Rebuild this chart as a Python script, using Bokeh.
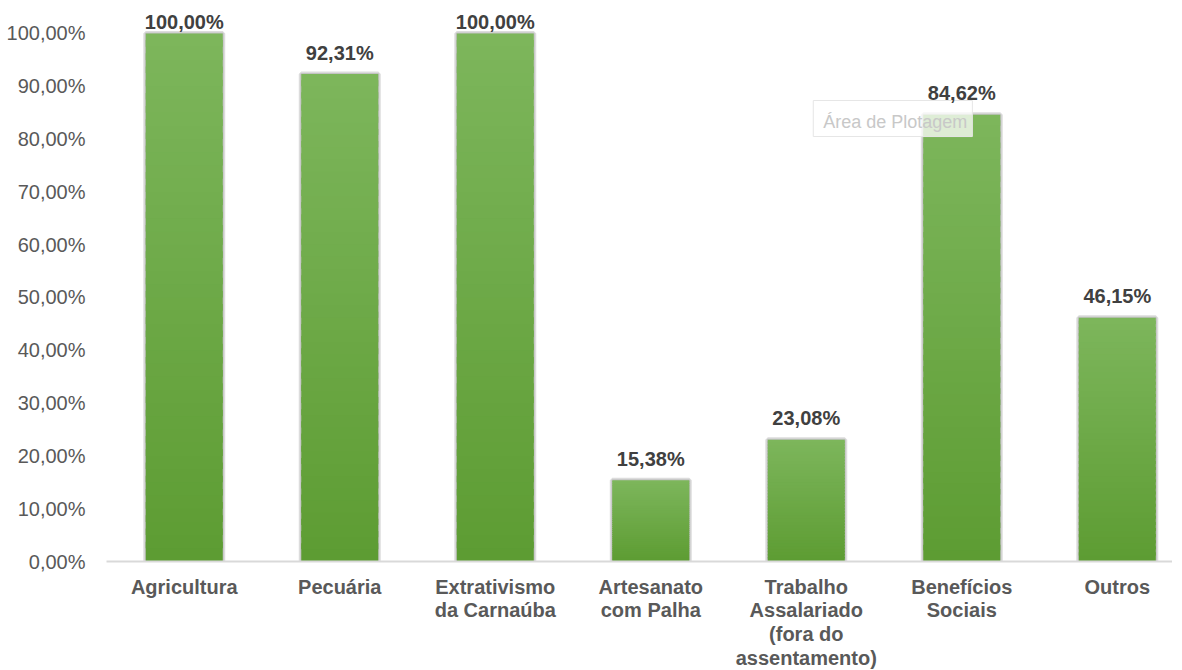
import numpy as np
from bokeh.plotting import figure
from bokeh.models import ColumnDataSource, Range1d, FixedTicker, Label
from bokeh.core.properties import value
from bokeh.embed import file_html
from bokeh.resources import INLINE

categories = ["Agricultura", "Pecuária", "Extrativismo\nda Carnaúba", "Artesanato\ncom Palha",
              "Trabalho\nAssalariado\n(fora do\nassentamento)", "Benefícios\nSociais", "Outros"]
values = [100.00, 92.31, 100.00, 15.38, 23.08, 84.62, 46.15]
y_ticks = [0, 10, 20, 30, 40, 50, 60, 70, 80, 90, 100]

FONT = "Liberation Sans"
xs = [i + 0.5 for i in range(len(categories))]

p = figure(frame_width=1066, frame_height=556, output_backend="svg", toolbar_location=None,
           x_range=Range1d(0, 6.855), y_range=Range1d(0, 105.3),
           min_border_left=106, min_border_right=0, min_border_top=5, min_border_bottom=93)
p.outline_line_color = None
p.xgrid.grid_line_color = None
p.ygrid.grid_line_color = None

# shadow
p.vbar(x=xs, top=values, bottom=0, width=0.495, fill_color=None,
       line_color="#8a8a8a", line_alpha=0.3, line_width=5)
p.vbar(x=xs, top=values, bottom=0, width=0.495, fill_color=None,
       line_color="#8a8a8a", line_alpha=0.3, line_width=2)

# gradient bars
top_c = np.array([0x7d, 0xb6, 0x5c])
bot_c = np.array([0x5d, 0x9c, 0x32])
N = 40
gx, gb, gt, gc = [], [], [], []
for x, v in zip(xs, values):
    for k in range(N):
        t = (k + 0.5) / N
        c = bot_c + (top_c - bot_c) * t
        gx.append(x)
        gb.append(v * k / N)
        gt.append(min(v, v * (k + 1.5) / N))
        gc.append("#%02x%02x%02x" % tuple(int(round(a)) for a in c))
p.vbar(x=gx, bottom=gb, top=gt, width=0.495, fill_color=gc, line_color=None)

# value labels
lbl = [f"{v:.2f}".replace(".", ",") + "%" for v in values]
ly = [min(v + 2.0, 100.0) for v in values]
src = ColumnDataSource(dict(x=xs, y=ly, t=lbl))
p.text(x="x", y="y", text="t", source=src, text_align="center", text_baseline="bottom",
       text_font=value(FONT), text_font_size="20px", text_font_style="bold", text_color="#404040",
       level="overlay")

# axes
p.xaxis.ticker = FixedTicker(ticks=xs)
p.xaxis.major_label_overrides = {x: c for x, c in zip(xs, categories)}
p.xaxis.major_tick_line_color = None
p.xaxis.minor_tick_line_color = None
p.xaxis.axis_line_color = "#d9d9d9"
p.xaxis.axis_line_width = 2
p.xaxis.major_label_text_font = FONT
p.xaxis.major_label_text_font_size = "20px"
p.xaxis.major_label_text_font_style = "bold"
p.xaxis.major_label_text_color = "#595959"
p.xaxis.major_label_text_line_height = 1.08
p.xaxis.major_label_standoff = 8

p.yaxis.ticker = FixedTicker(ticks=y_ticks)
p.yaxis.major_label_overrides = {t: f"{t:.2f}".replace(".", ",") + "%" for t in y_ticks}
p.yaxis.major_tick_line_color = None
p.yaxis.minor_tick_line_color = None
p.yaxis.axis_line_color = None
p.yaxis.major_label_text_font = FONT
p.yaxis.major_label_text_font_size = "20px"
p.yaxis.major_label_text_color = "#595959"
p.yaxis.major_label_standoff = 15

tip = Label(x=4.545, y=87.3, text="Área de Plotagem", text_font=FONT, text_font_size="18px",
            text_color="#c8c8c8", anchor="top_left", padding=[10, 5, 11, 5],
            background_fill_color="white", background_fill_alpha=0.75,
            border_line_color="#e6e6e6", border_line_width=1)
p.add_layout(tip)

open("out.html", "w").write(file_html(p, INLINE))
